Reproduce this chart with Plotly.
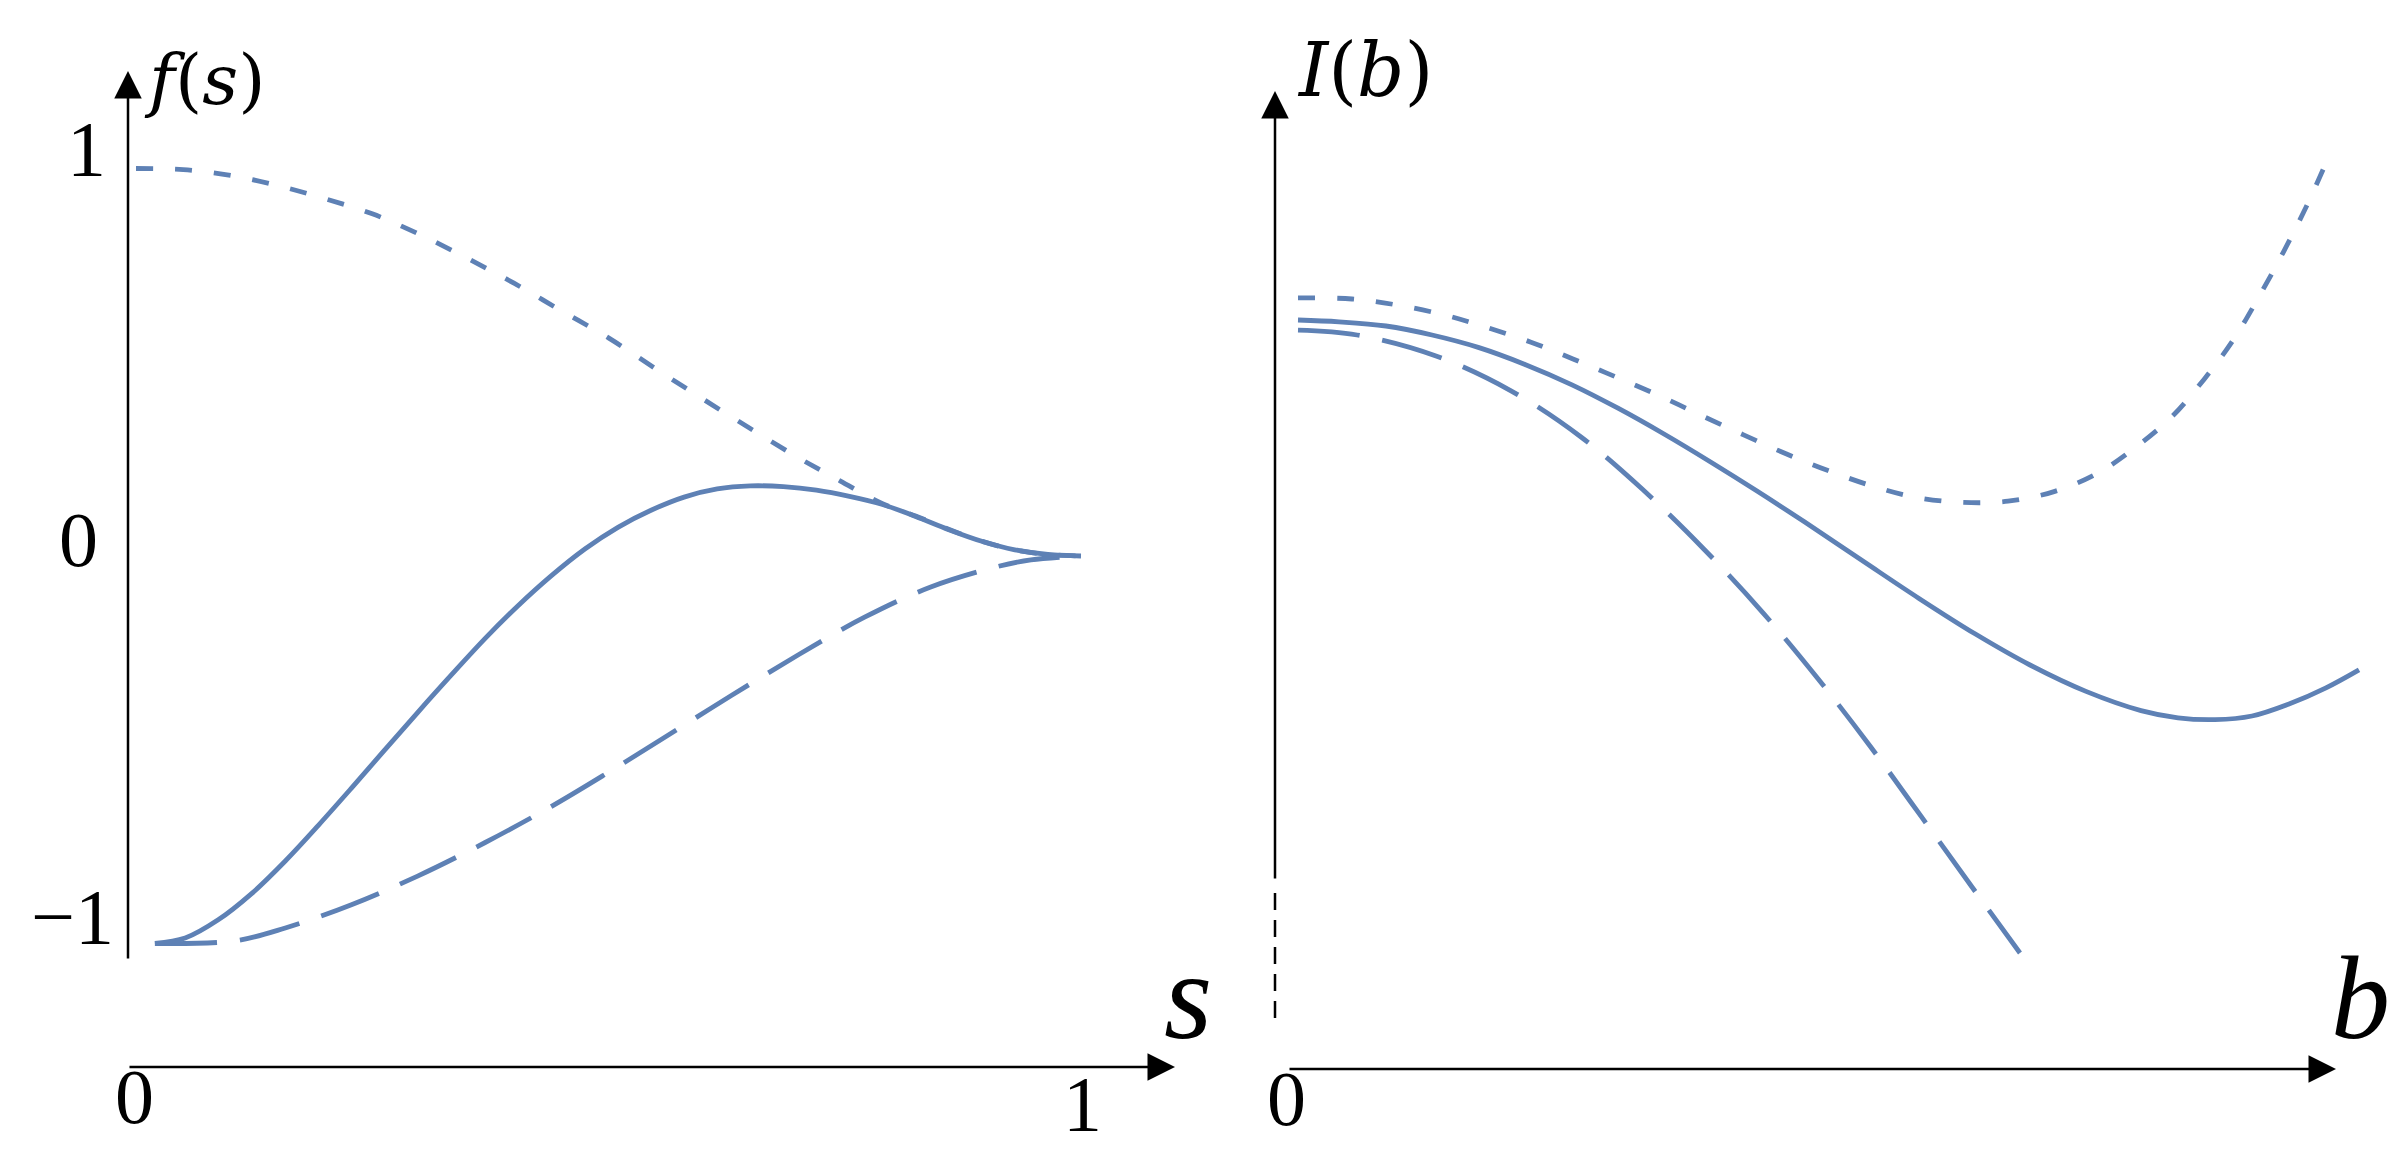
import plotly.graph_objects as go

# ---------------- data: left panel, f(s) ----------------
s_dotted = [0.0, 0.05, 0.10, 0.15, 0.20, 0.25, 0.30, 0.35, 0.40, 0.45, 0.50, 0.55, 0.60,
            0.65, 0.70, 0.745, 0.790, 0.825, 0.860, 0.895, 0.930, 0.965, 1.0]
f_dotted = [1.0, 0.997, 0.982, 0.956, 0.922, 0.883, 0.830, 0.769, 0.704, 0.633, 0.563, 0.483,
            0.405, 0.329, 0.255, 0.194, 0.135, 0.103, 0.069, 0.038, 0.016, 0.004, 0.0]

s_solid = [0.02, 0.052, 0.087, 0.122, 0.158, 0.193, 0.228, 0.263, 0.298, 0.333, 0.369, 0.404,
           0.439, 0.475, 0.510, 0.545, 0.580, 0.615, 0.650, 0.685, 0.720, 0.755, 0.790, 0.825,
           0.860, 0.895, 0.930, 0.965, 1.0]
f_solid = [-1.0, -0.986, -0.939, -0.872, -0.787, -0.695, -0.599, -0.501, -0.404, -0.309, -0.214,
           -0.129, -0.052, 0.018, 0.074, 0.118, 0.152, 0.173, 0.181, 0.179, 0.170, 0.154, 0.133,
           0.102, 0.068, 0.038, 0.016, 0.004, 0.0]

s_dashed = [0.02, 0.105, 0.158, 0.228, 0.298, 0.369, 0.439, 0.500, 0.560, 0.630, 0.701, 0.771,
            0.841, 0.912, 0.947, 1.0]
f_dashed = [-1.0, -0.993, -0.960, -0.900, -0.826, -0.740, -0.647, -0.558, -0.467, -0.360, -0.255,
            -0.158, -0.080, -0.027, -0.010, 0.0]

# ---------------- data: right panel, I(b) ----------------
b_dotted = [0.010, 0.064, 0.109, 0.155, 0.198, 0.243, 0.285, 0.328, 0.371, 0.412, 0.455, 0.498,
            0.540, 0.585, 0.629, 0.674, 0.720, 0.766, 0.809, 0.847, 0.884, 0.916, 0.945, 0.971,
            0.995, 1.018, 1.042]
I_dotted = [1.017, 1.015, 1.005, 0.989, 0.968, 0.943, 0.915, 0.885, 0.854, 0.822, 0.789, 0.757,
            0.729, 0.703, 0.684, 0.676, 0.678, 0.694, 0.724, 0.767, 0.819, 0.881, 0.946, 1.019,
            1.092, 1.168, 1.257]

b_solid = [0.010, 0.051, 0.098, 0.144, 0.191, 0.237, 0.284, 0.330, 0.376, 0.423, 0.469, 0.516,
           0.576, 0.631, 0.687, 0.742, 0.798, 0.853, 0.890, 0.927, 0.964, 1.001, 1.038, 1.071]
I_solid = [0.980, 0.977, 0.970, 0.955, 0.934, 0.906, 0.872, 0.833, 0.790, 0.743, 0.695, 0.644,
           0.577, 0.516, 0.457, 0.405, 0.361, 0.329, 0.317, 0.314, 0.320, 0.340, 0.367, 0.397]

b_dashed = [0.010, 0.069, 0.148, 0.223, 0.293, 0.355, 0.416, 0.475, 0.530, 0.582, 0.633, 0.684,
            0.732]
I_dashed = [0.963, 0.955, 0.920, 0.862, 0.785, 0.697, 0.598, 0.492, 0.382, 0.270, 0.153, 0.035,
            -0.075]

# ---------------- labels ----------------
left_y_ticks = ["1", "0", "\u22121"]
left_x_ticks = ["0", "1"]
right_x_ticks = ["0"]
left_ylabel = "<i>f</i>(<i>s</i>)"
left_xlabel = "<i>s</i>"
right_ylabel = "<i>I</i>(<i>b</i>)"
right_xlabel = "<i>b</i>"

# ---------------- styling ----------------
W, H = 2408, 1155
BLUE = "#5E81B5"
LW = 4.8
DOT = "17px,22px"
LONG = "62px,23px"
FONT = "Liberation Serif"
FONT_FN = "DejaVu Serif"

fig = go.Figure()

def add_line(x, y, dash, xa, ya):
    fig.add_trace(go.Scatter(x=x, y=y, mode="lines", xaxis=xa, yaxis=ya,
                             line=dict(color=BLUE, width=LW, dash=dash, shape="spline",
                                       smoothing=1.0),
                             showlegend=False, hoverinfo="skip"))

add_line(s_dotted, f_dotted, DOT, "x", "y")
add_line(s_dashed, f_dashed, LONG, "x", "y")
add_line(s_solid, f_solid, "solid", "x", "y")
add_line(b_dotted, I_dotted, DOT, "x2", "y2")
add_line(b_dashed, I_dashed, LONG, "x2", "y2")
add_line(b_solid, I_solid, "solid", "x2", "y2")

def hidden(**kw):
    d = dict(visible=False, showgrid=False, zeroline=False, fixedrange=True)
    d.update(kw)
    return d

fig.update_layout(
    width=W, height=H,
    margin=dict(l=0, r=0, t=0, b=0),
    paper_bgcolor="white", plot_bgcolor="white",
    xaxis=hidden(domain=[0, 0.5], range=[-0.13545, 1.13862]),
    yaxis=hidden(domain=[0, 1], range=[-1.56645, 1.41419]),
    xaxis2=hidden(domain=[0.5, 1], range=[-0.076, 1.128], anchor="y2"),
    yaxis2=hidden(domain=[0, 1], range=[-0.425, 1.5], anchor="x2"),
)

annotations = []

def arrow(xr, yr, tail, tip):
    annotations.append(dict(xref=xr, yref=yr, axref=xr, ayref=yr,
                            x=tip[0], y=tip[1], ax=tail[0], ay=tail[1],
                            text="", showarrow=True, arrowhead=2, arrowsize=2.2,
                            arrowwidth=2.5, arrowcolor="black", standoff=0))

# axis arrows
arrow("x", "y", (-0.00847, -1.0426), (-0.00847, 1.2516))
arrow("x", "y", (-0.00847, -1.3187), (1.0995, -1.3187))
arrow("x2", "y2", (-0.013, 0.0467), (-0.013, 1.3617))
arrow("x2", "y2", (0.0, -0.2683), (1.048, -0.2683))

# dashed lower part of right vertical axis
fig.add_shape(type="line", xref="x2", yref="y2", x0=-0.013, x1=-0.013, y0=0.025, y1=-0.1833,
              line=dict(color="black", width=2.5, dash="17px,10px"))

def label(text, X, Y, size, xanchor="center", family=FONT):
    annotations.append(dict(xref="paper", yref="paper", x=X / W, y=1 - Y / H,
                            text=text, showarrow=False, xanchor=xanchor, yanchor="middle",
                            font=dict(family=family, size=size, color="black")))

label(left_ylabel, 196, 72, 70, family=FONT_FN)
label(left_y_ticks[0], 78, 140, 78)
label(left_y_ticks[1], 70, 531, 78)
label(left_y_ticks[2], 108, 908, 78, xanchor="right")
label(left_x_ticks[0], 126, 1088, 78)
label(left_x_ticks[1], 1074, 1095, 78)
label(left_xlabel, 1180, 988, 124)
label(right_ylabel, 1357, 62, 74, family=FONT_FN)
label(right_x_ticks[0], 1278, 1090, 78)
label(right_xlabel, 2352, 990, 118)

fig.update_layout(annotations=annotations)

fig.write_html("out.html")
